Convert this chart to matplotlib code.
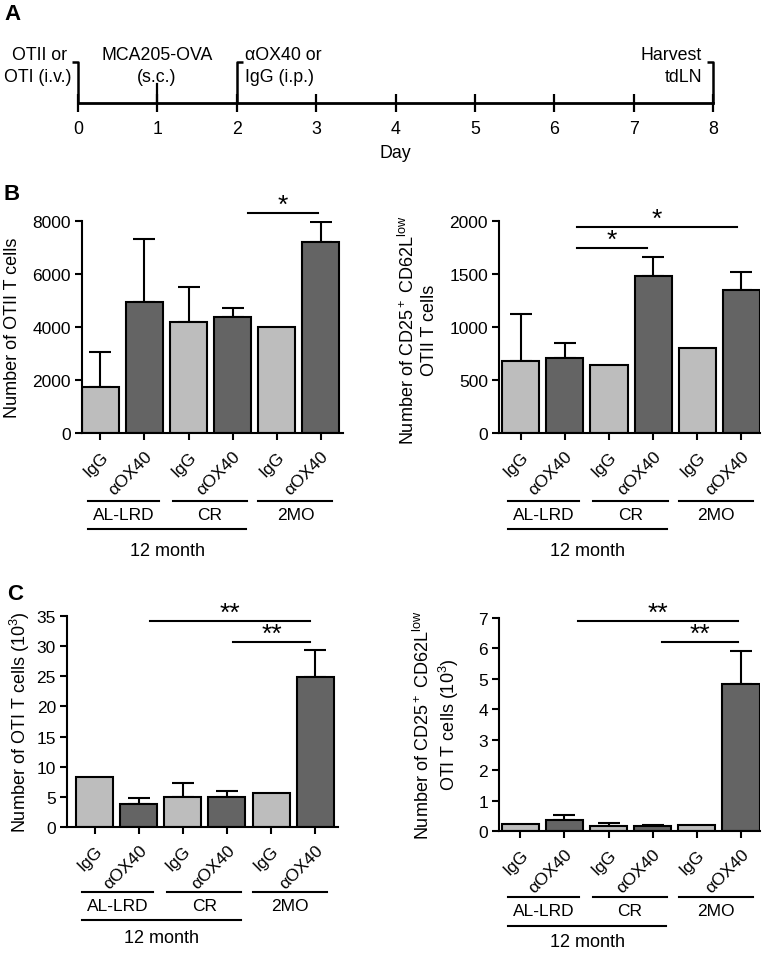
import matplotlib
matplotlib.use("Agg")
import matplotlib.pyplot as plt
import matplotlib.transforms as mtransforms

plt.rcParams['font.family'] = ['Liberation Sans', 'DejaVu Sans']
plt.rcParams['mathtext.fontset'] = 'custom'
plt.rcParams['mathtext.rm'] = 'Liberation Sans'
plt.rcParams['mathtext.it'] = 'Liberation Sans:italic'
plt.rcParams['mathtext.bf'] = 'Liberation Sans:bold'

# ---------------- data ----------------
days = [0, 1, 2, 3, 4, 5, 6, 7, 8]
treatments = ['IgG', 'αOX40', 'IgG', 'αOX40', 'IgG', 'αOX40']
diet_groups = ['AL-LRD', 'CR', '2MO']
age_label = '12 month'

otii_mean = [1750, 4940, 4190, 4370, 4000, 7200]
otii_sem = [1310, 2390, 1310, 330, 0, 760]

otii_act_mean = [680, 705, 640, 1477, 800, 1345]
otii_act_sem = [447, 142, 0, 183, 0, 170]

oti_mean = [8.3, 3.8, 4.9, 4.9, 5.7, 24.9]
oti_sem = [0, 1.0, 2.4, 1.1, 0, 4.5]

oti_act_mean = [0.24, 0.36, 0.165, 0.15, 0.19, 4.82]
oti_act_sem = [0, 0.16, 0.105, 0.04, 0, 1.1]

LIGHT = '#bdbdbd'
DARK = '#646464'
bar_colors = [LIGHT, DARK, LIGHT, DARK, LIGHT, DARK]

FT = 12.5   # tick / category font
FL = 13     # axis label font
FA = 12.8   # panel A font

W, H = 765, 954
fig = plt.figure(figsize=(W / 100, H / 100), dpi=100)


def add_ax(l, t, r, b):
    return fig.add_axes([l / W, 1 - b / H, (r - l) / W, (b - t) / H])


def fy(y):
    return 1 - y / H


def fx(x):
    return x / W


# ---------------- Panel A: timeline ----------------
axA = add_ax(78, 40, 713, 104)
axA.set_xlim(0, 8)
axA.set_ylim(0, 64)
for s in ['left', 'top', 'right']:
    axA.spines[s].set_visible(False)
axA.spines['bottom'].set_linewidth(2)
axA.set_yticks([])
axA.set_xticks(days)
axA.set_xticklabels([str(d) for d in days], fontsize=FA)
axA.tick_params(axis='x', direction='inout', length=13, width=1.6, pad=5.5)
axA.set_xlabel('Day', fontsize=FA, labelpad=5)
stub = 6 / 79.3
axA.plot([0 - stub, 0, 0], [41, 41, 0], color='k', lw=1.8, clip_on=False, solid_capstyle='butt')
axA.plot([2 + stub, 2, 2], [41, 41, 0], color='k', lw=1.8, clip_on=False, solid_capstyle='butt')
axA.plot([8 - stub, 8, 8], [41, 41, 0], color='k', lw=1.8, clip_on=False, solid_capstyle='butt')
axA.plot([1, 1], [19, 0], color='k', lw=1.6, clip_on=False)

fig.text(fx(40), fy(55), 'OTII or', ha='center', va='center', fontsize=FA)
fig.text(fx(38), fy(77), 'OTI (i.v.)', ha='center', va='center', fontsize=FA)
fig.text(fx(157), fy(55), 'MCA205-OVA', ha='center', va='center', fontsize=FA)
fig.text(fx(157), fy(77), '(s.c.)', ha='center', va='center', fontsize=FA)
fig.text(fx(245), fy(55), 'αOX40 or', ha='left', va='center', fontsize=FA)
fig.text(fx(245), fy(77), 'IgG (i.p.)', ha='left', va='center', fontsize=FA)
fig.text(fx(702), fy(55), 'Harvest', ha='right', va='center', fontsize=FA)
fig.text(fx(702), fy(77), 'tdLN', ha='right', va='center', fontsize=FA)

fig.text(fx(13), fy(14), 'A', ha='center', va='center', fontsize=16, fontweight='bold')
fig.text(fx(12), fy(195), 'B', ha='center', va='center', fontsize=16, fontweight='bold')
fig.text(fx(15), fy(595), 'C', ha='center', va='center', fontsize=16, fontweight='bold')


# ---------------- bar panels ----------------
def bar_panel(box, xlim, means, sems, ylim, yticks, sig, ypix):
    ax = add_ax(*box)
    x = list(range(len(means)))
    ax.bar(x, means, width=0.84, color=bar_colors, edgecolor='k', linewidth=1.5, zorder=2)
    for i in x:
        if sems[i] > 0:
            ax.errorbar(i, means[i], yerr=[[0], [sems[i]]], fmt='none', ecolor='k',
                        elinewidth=1.5, capsize=8, capthick=1.5, zorder=1)
    ax.set_xlim(*xlim)
    ax.set_ylim(*ylim)
    ax.set_yticks(yticks)
    ax.set_yticklabels([str(t) for t in yticks], fontsize=FT)
    ax.set_xticks(x)
    ax.set_xticklabels(treatments, rotation=45, ha='right', rotation_mode='anchor', fontsize=FT)
    ax.tick_params(axis='both', direction='out', length=5, width=1.5)
    ax.tick_params(axis='x', pad=6)
    ax.tick_params(axis='y', pad=3)
    for s in ['top', 'right']:
        ax.spines[s].set_visible(False)
    for s in ['left', 'bottom']:
        ax.spines[s].set_linewidth(1.5)
    # significance bars
    for (x0, x1, yv, label) in sig:
        ax.plot([x0, x1], [yv, yv], color='k', lw=1.5, clip_on=False)
        ax.annotate(label, ((x0 + x1) / 2, yv), xytext=(0, -3), textcoords='offset points',
                    ha='center', va='bottom', fontsize=19, annotation_clip=False)
    # group annotations below axis
    tr = mtransforms.blended_transform_factory(ax.transData, fig.transFigure)
    gline, glabel, aline, alabel = ypix
    spans = [(-0.28, 1.33), (1.64, 3.33), (3.59, 5.27)]
    for (a, b), name in zip(spans, diet_groups):
        ax.plot([a, b], [fy(gline)] * 2, color='k', lw=1.5, transform=tr, clip_on=False)
        ax.text((a + b) / 2, fy(glabel), name, transform=tr, ha='center', va='center', fontsize=FT)
    ax.plot([-0.28, 3.31], [fy(aline)] * 2, color='k', lw=1.5, transform=tr, clip_on=False)
    ax.text((-0.28 + 3.31) / 2, fy(alabel), age_label, transform=tr, ha='center', va='center', fontsize=FL)
    return ax


bar_panel((82, 222, 343, 434), (-0.42, 5.51), otii_mean, otii_sem, (0, 8000),
          [0, 2000, 4000, 6000, 8000], [(3.36, 4.94, 8312, '*')], (502, 516, 530, 552))
fig.text(fx(13), fy(328), 'Number of OTII T cells', rotation=90, ha='center', va='center', fontsize=FL)

bar_panel((499, 222, 760, 434), (-0.49, 5.42), otii_act_mean, otii_act_sem, (0, 2000),
          [0, 500, 1000, 1500, 2000], [(1.27, 4.89, 1943, '*'), (1.27, 2.85, 1745, '*')],
          (502, 516, 530, 552))
fig.text(fx(418), fy(330), 'Number of CD25$^+$ CD62L$^{\\mathrm{low}}$\nOTII T cells', rotation=90,
         ha='center', va='center', fontsize=FL, multialignment='center', linespacing=1.25)

bar_panel((67, 617, 338, 828), (-0.63, 5.52), oti_mean, oti_sem, (0, 35),
          [0, 5, 10, 15, 20, 25, 30, 35], [(1.25, 4.88, 34.2, '**'), (3.14, 4.88, 30.7, '**')],
          (893, 907, 921, 939))
fig.text(fx(20), fy(722), 'Number of OTI T cells (10$^3$)', rotation=90, ha='center', va='center', fontsize=FL)

bar_panel((499, 619, 760, 832), (-0.48, 5.43), oti_act_mean, oti_act_sem, (0, 7),
          [0, 1, 2, 3, 4, 5, 6, 7], [(1.32, 4.94, 6.9, '**'), (3.21, 4.94, 6.21, '**')],
          (898, 912, 927, 943))
fig.text(fx(437), fy(725), 'Number of CD25$^+$ CD62L$^{\\mathrm{low}}$\nOTI T cells (10$^3$)', rotation=90,
         ha='center', va='center', fontsize=FL, multialignment='center', linespacing=1.25)

fig.savefig('out.png', dpi=100)
